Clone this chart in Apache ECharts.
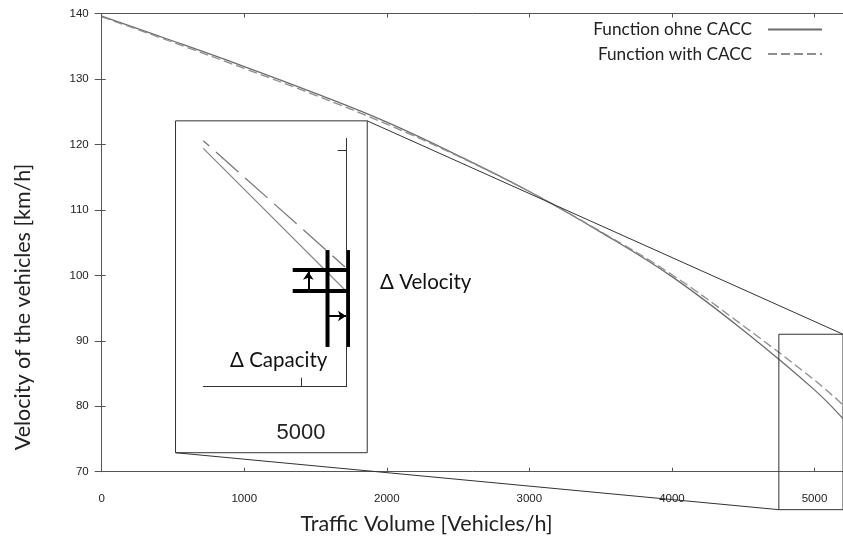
<!DOCTYPE html>
<html><head><meta charset="utf-8">
<script src="https://cdn.jsdelivr.net/npm/echarts@6.0.0/dist/echarts.min.js"></script>
<style>html,body{margin:0;padding:0;background:#fff}#c{width:843px;height:538px}</style>
</head><body><div id="c"></div>
<script>
// ---- data ----
const volume = [0, 500, 1000, 1500, 2000, 2500, 3000, 3500, 4000, 4500, 5000, 5200];
const speedOhne = [139.6, 135.8, 131.9, 127.8, 123.4, 118.3, 112.8, 106.6, 99.8, 91.6, 82.5, 78.1];
const speedWith = [139.5, 135.6, 131.6, 127.5, 123.1, 118.2, 112.8, 106.7, 100.1, 92.3, 84.0, 80.2];
const seriesNames = ['Function ohne CACC', 'Function with CACC'];
const xTicks = [0, 5200, 1000];   // min, max, interval
const yTicks = [70, 140, 10];

// zoom frame (main coordinates) and inset placement (main coordinates)
const zoomBoxX = [4750, 5200];
const zoomBoxY = [64.2, 91.0];
const insetBoxX = [517.8, 1862.7];
const insetBoxY = [72.9, 123.6];

// inset (magnified) schematic, inset coordinates
const insetX = [4855, 5068];
const insetY = [72, 92];
const insetTickX = [5000];
const insetTickY = [91];
const insetLineX = [4855, 5065.5];
const insetOhne = [91.19, 79.79];
const insetWith = [91.81, 81.64];
const velLevels = [81.40, 79.71];
const capLevels = [5039.5, 5071];
const crossXSpan = [4987.8, 5091.8];
const crossYSpan = [75.2, 83.0];
const arrowUp = [[5011, 79.71], [5011, 81.25]];
const arrowRight = [[5039.5, 77.69], [5067, 77.69]];

const pair = (xs, ys) => xs.map((x, i) => [x, ys[i]]);
const font = 'Lato';
const axisCol = '#555';
const plain = v => String(v);

const chart = echarts.init(document.getElementById('c'), null, {renderer: 'canvas'});

const frameStyle = {color: '#333', width: 1};
const series = [
  {name: seriesNames[0], type: 'line', xAxisIndex: 0, yAxisIndex: 0, data: pair(volume, speedOhne),
   smooth: 0.4, symbol: 'none', lineStyle: {color: '#6c6c6c', width: 1.3}, itemStyle: {color: '#6c6c6c'}, z: 3},
  {name: seriesNames[1], type: 'line', xAxisIndex: 0, yAxisIndex: 0, data: pair(volume, speedWith),
   smooth: 0.4, symbol: 'none', lineStyle: {color: '#8e8e8e', width: 1.3, type: [9, 4]}, itemStyle: {color: '#8e8e8e'}, z: 3},
  // zoom frame
  {type: 'line', xAxisIndex: 0, yAxisIndex: 0, clip: false, symbol: 'none', silent: true, lineStyle: frameStyle,
   data: [[zoomBoxX[0], zoomBoxY[0]], [zoomBoxX[0], zoomBoxY[1]], [zoomBoxX[1], zoomBoxY[1]], [zoomBoxX[1], zoomBoxY[0]], [zoomBoxX[0], zoomBoxY[0]]]},
  // inset box
  {type: 'line', xAxisIndex: 0, yAxisIndex: 0, clip: false, symbol: 'none', silent: true, lineStyle: frameStyle,
   data: [[insetBoxX[0], insetBoxY[0]], [insetBoxX[1], insetBoxY[0]], [insetBoxX[1], insetBoxY[1]], [insetBoxX[0], insetBoxY[1]], [insetBoxX[0], insetBoxY[0]]]},
  // connectors
  {type: 'line', xAxisIndex: 0, yAxisIndex: 0, clip: false, symbol: 'none', silent: true, lineStyle: frameStyle,
   data: [[insetBoxX[1], insetBoxY[1]], [zoomBoxX[1], zoomBoxY[1]]]},
  {type: 'line', xAxisIndex: 0, yAxisIndex: 0, clip: false, symbol: 'none', silent: true, lineStyle: frameStyle,
   data: [[insetBoxX[0], insetBoxY[0]], [zoomBoxX[0], zoomBoxY[0]]]},
  // inset curves
  {name: 'inset ohne', type: 'line', xAxisIndex: 2, yAxisIndex: 2, symbol: 'none', silent: true,
   data: pair(insetLineX, insetOhne), lineStyle: {color: '#8a8a8a', width: 1.3}},
  {name: 'inset with', type: 'line', xAxisIndex: 2, yAxisIndex: 2, symbol: 'none', silent: true,
   data: pair(insetLineX, insetWith), lineStyle: {color: '#7a7a7a', width: 1.3, type: [30, 9], dashOffset: 22}},
];
velLevels.forEach(v => series.push({type: 'line', xAxisIndex: 2, yAxisIndex: 2, clip: false, symbol: 'none', silent: true,
  data: [[crossXSpan[0], v], [crossXSpan[1], v]], lineStyle: {color: '#000', width: 4}, z: 5}));
capLevels.forEach(c => series.push({type: 'line', xAxisIndex: 2, yAxisIndex: 2, clip: false, symbol: 'none', silent: true,
  data: [[c, crossYSpan[0]], [c, crossYSpan[1]]], lineStyle: {color: '#000', width: 4}, z: 5}));
series.push({type: 'lines', coordinateSystem: 'cartesian2d', xAxisIndex: 2, yAxisIndex: 2, silent: true,
  symbol: ['none', 'arrow'], symbolSize: 8,
  lineStyle: {color: '#000', width: 2, opacity: 1, curveness: 0},
  data: [{coords: arrowUp}, {coords: arrowRight}], z: 6});

const mainX = {min: xTicks[0], max: xTicks[1], interval: xTicks[2]};
const mainY = {min: yTicks[0], max: yTicks[1], interval: yTicks[2]};

chart.setOption({
  animation: false,
  backgroundColor: '#fff',
  grid: [
    {left: 101.7, top: 13.5, width: 746.3, height: 458.2},
    {left: 203.3, top: 138.3, width: 143.4, height: 248.4}
  ],
  legend: {
    data: seriesNames, orient: 'vertical', right: 20, top: 21, padding: 0,
    align: 'right', itemWidth: 54, itemHeight: 14, itemGap: 7.5,
    itemStyle: {color: 'rgba(0,0,0,0)', borderWidth: 0, opacity: 0},
    textStyle: {fontFamily: font, fontSize: 17.2, color: '#222', padding: [0, 11, 0, 0]}
  },
  xAxis: [
    Object.assign({type: 'value', gridIndex: 0, position: 'bottom',
      axisLine: {show: true, lineStyle: {color: axisCol, width: 1}},
      axisTick: {inside: true, length: 4, lineStyle: {color: axisCol}},
      axisLabel: {fontFamily: 'Liberation Sans', fontSize: 11.5, color: '#222', margin: 21, showMaxLabel: false, formatter: plain},
      splitLine: {show: false}}, mainX),
    Object.assign({type: 'value', gridIndex: 0, position: 'top',
      axisLine: {show: true, lineStyle: {color: axisCol, width: 1}},
      axisTick: {inside: true, length: 4, lineStyle: {color: axisCol}},
      axisLabel: {show: false}, splitLine: {show: false}}, mainX),
    {type: 'value', gridIndex: 1, position: 'bottom', min: insetX[0], max: insetX[1],
      axisLine: {show: true, onZero: false, lineStyle: {color: '#333', width: 1}},
      axisTick: {inside: true, length: 9, customValues: insetTickX, lineStyle: {color: '#333'}},
      axisLabel: {customValues: insetTickX, fontFamily: 'Liberation Sans', fontSize: 22, color: '#222', margin: 35, formatter: plain},
      splitLine: {show: false}}
  ],
  yAxis: [
    Object.assign({type: 'value', gridIndex: 0, position: 'left',
      axisLine: {show: true, lineStyle: {color: axisCol, width: 1}},
      axisTick: {inside: true, length: 4, lineStyle: {color: axisCol}},
      axisLabel: {fontFamily: 'Liberation Sans', fontSize: 11.5, color: '#222', margin: 13, formatter: plain},
      splitLine: {show: false}}, mainY),
    Object.assign({type: 'value', gridIndex: 0, position: 'right',
      axisLine: {show: true, lineStyle: {color: axisCol, width: 1}},
      axisTick: {inside: true, length: 7, lineStyle: {color: axisCol}},
      axisLabel: {show: false}, splitLine: {show: false}}, mainY),
    {type: 'value', gridIndex: 1, position: 'right', min: insetY[0], max: insetY[1],
      axisLine: {show: true, onZero: false, lineStyle: {color: '#333', width: 1}},
      axisTick: {inside: true, length: 9, customValues: insetTickY, lineStyle: {color: '#333'}},
      axisLabel: {show: false}, splitLine: {show: false}}
  ],
  graphic: [
    {type: 'text', x: 23, y: 307, rotation: Math.PI / 2, silent: true,
     style: {text: 'Velocity of the vehicles [km/h]', fontFamily: font, fontSize: 21.5, fill: '#222', align: 'center', verticalAlign: 'middle'}},
    {type: 'text', x: 426.5, y: 524, silent: true,
     style: {text: 'Traffic Volume [Vehicles/h]', fontFamily: font, fontSize: 21.5, fill: '#222', align: 'center', verticalAlign: 'middle'}},
    {type: 'text', x: 380, y: 282, silent: true,
     style: {text: 'Δ Velocity', fontFamily: font, fontSize: 20.5, fill: '#111', align: 'left', verticalAlign: 'middle'}},
    {type: 'text', x: 230, y: 360, silent: true,
     style: {text: 'Δ Capacity', fontFamily: font, fontSize: 20.5, fill: '#111', align: 'left', verticalAlign: 'middle'}}
  ],
  series: series
});
</script>
</body></html>
